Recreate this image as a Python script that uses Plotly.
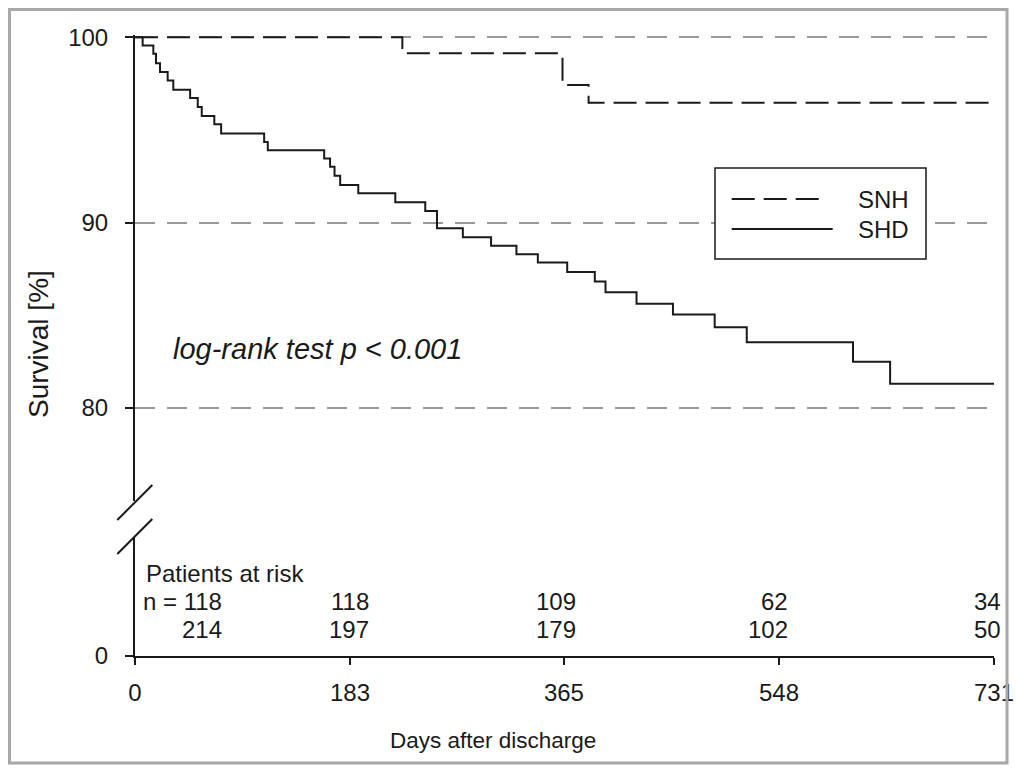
import plotly.graph_objects as go
from plotly.subplots import make_subplots

# ---------------- data ----------------
shd_days = [0, 6.5, 15.6, 17.9, 21.3, 27.8, 32.6, 46.9, 53.4, 56.8, 67.5, 73.3,
            109.9, 113, 161, 166, 169.8, 174.6, 190, 221.5, 247, 257, 279, 303,
            324.6, 342.8, 367.8, 391.3, 400.4, 426.8, 457.8, 493.3, 520.6, 611,
            642.6, 731]
shd_surv = [100, 99.55, 99.11, 98.60, 98.12, 97.67, 97.17, 96.72, 96.24, 95.75,
            95.31, 94.81, 94.35, 93.91, 93.46, 93.01, 92.53, 92.03, 91.58, 91.10,
            90.63, 89.70, 89.21, 88.75, 88.30, 87.85, 87.33, 86.83, 86.24, 85.63,
            85.04, 84.35, 83.55, 82.49, 81.31, 81.31]

snh_days = [0, 227.5, 363.8, 386, 731]
snh_surv = [100, 99.13, 97.42, 96.47, 96.47]

x_ticks = [0, 183, 365, 548, 731]
y_ticks_upper = [80, 90, 100]
risk_snh = ["n = 118", "118", "109", "62", "34"]
risk_shd = ["214", "197", "179", "102", "50"]

# ---------------- layout geometry ----------------
W, H = 1016, 772
L, R, T, B = 135, 22, 35, 116
PW, PH = W - L - R, H - T - B


def px(xp):
    return (xp - L) / PW


def py(yp):
    return 1 - (yp - T) / PH


FONT = "Liberation Sans, Arial, Helvetica, sans-serif"
INK = "#1a1a1a"

fig = make_subplots(rows=2, cols=1, vertical_spacing=0.0)

fig.add_trace(go.Scatter(x=snh_days, y=snh_surv, mode="lines", line_shape="hv",
                         name="SNH", line=dict(color=INK, width=2, dash="23px,9px"),
                         showlegend=False), row=1, col=1)
fig.add_trace(go.Scatter(x=shd_days, y=shd_surv, mode="lines", line_shape="hv",
                         name="SHD", line=dict(color=INK, width=2),
                         showlegend=False), row=1, col=1)
# invisible helper so the lower (risk-table) panel and its axes are drawn
fig.add_trace(go.Scatter(x=x_ticks, y=[0] * len(x_ticks), mode="markers",
                         marker=dict(opacity=0), hoverinfo="skip",
                         showlegend=False), row=2, col=1)

upper_bottom = py(37.2 + 25 * 18.54)
tf = dict(size=24, family=FONT, color=INK)
fig.update_layout(
    width=W, height=H, autosize=False,
    margin=dict(l=L, r=R, t=T, b=B),
    paper_bgcolor="white", plot_bgcolor="white",
    font=dict(family=FONT, color=INK, size=24),
    xaxis=dict(range=[0, 731], showticklabels=False, ticks="", showline=False,
               showgrid=False, zeroline=False, automargin=False),
    yaxis=dict(domain=[upper_bottom, 1], range=[75, 100.12],
               tickvals=y_ticks_upper, ticks="outside", ticklen=8, tickwidth=2,
               tickcolor=INK, showline=True, linewidth=2, linecolor=INK,
               showgrid=True, gridcolor="#9a9a9a", gridwidth=1.5,
               griddash="20px,12px", zeroline=False, tickfont=tf,
               ticklabelstandoff=12, automargin=False),
    xaxis2=dict(range=[0, 731], tickvals=x_ticks, ticks="outside", ticklen=7,
                tickwidth=2, tickcolor=INK, showline=True, linewidth=2,
                linecolor=INK, showgrid=False, zeroline=False, tickfont=tf,
                ticklabelstandoff=7, automargin=False),
    yaxis2=dict(domain=[0, py(537)], range=[0, 10], tickvals=[0], ticks="outside",
                ticklen=8, tickwidth=2, tickcolor=INK, showline=True, linewidth=2,
                linecolor=INK, showgrid=False, zeroline=False, tickfont=tf,
                ticklabelstandoff=12, automargin=False),
)

shapes = []
# outer grey frame
shapes.append(dict(type="rect", xref="paper", yref="paper",
                   x0=px(9.5), x1=px(1007), y0=py(9.5), y1=py(763),
                   line=dict(color="#a8a8a8", width=3)))
# axis break marks
for (x0, y0, x1, y1) in [(117.3, 520, 152.3, 485), (117.3, 554, 152.3, 519)]:
    shapes.append(dict(type="line", xref="paper", yref="paper",
                       x0=px(x0), y0=py(y0), x1=px(x1), y1=py(y1),
                       line=dict(color=INK, width=2)))
# legend box and samples
shapes.append(dict(type="rect", xref="paper", yref="paper",
                   x0=px(715), x1=px(926), y0=py(168), y1=py(259),
                   line=dict(color=INK, width=1.5), fillcolor="white", layer="above"))
shapes.append(dict(type="line", xref="paper", yref="paper",
                   x0=px(731.7), x1=px(823), y0=py(199), y1=py(199),
                   line=dict(color=INK, width=2, dash="23px,9px")))
shapes.append(dict(type="line", xref="paper", yref="paper",
                   x0=px(731.7), x1=px(832.7), y0=py(229), y1=py(229),
                   line=dict(color=INK, width=2)))
fig.update_layout(shapes=shapes)

ann = []


def add_text(text, xp, yp, xanchor="left", size=24, italic=False, angle=0):
    ann.append(dict(text=f"<i>{text}</i>" if italic else text,
                    xref="paper", yref="paper", x=px(xp), y=py(yp),
                    xanchor=xanchor, yanchor="middle", showarrow=False,
                    textangle=angle, font=dict(size=size, family=FONT, color=INK)))


add_text("SNH", 856, 199)
add_text("SHD", 856, 229)
add_text("log-rank test p < 0.001", 171, 349, size=29, italic=True)
add_text("Survival [%]", 38, 344, xanchor="center", size=28, angle=-90)
add_text("Days after discharge", 492.5, 740, xanchor="center", size=22.5)
add_text("Patients at risk", 144, 573.5)
col_right = [224, 371, 578, 790, 1003]
for i, xr in enumerate(col_right):
    add_text(risk_snh[i], xr, 601.5, xanchor="right")
    add_text(risk_shd[i], xr, 629.5, xanchor="right")
fig.update_layout(annotations=ann)

fig.write_html(
    "out.html",
    config={"responsive": False, "displayModeBar": False},
    post_script=("document.body.style.margin='0';"
                 "document.body.style.overflow='hidden';"),
)
